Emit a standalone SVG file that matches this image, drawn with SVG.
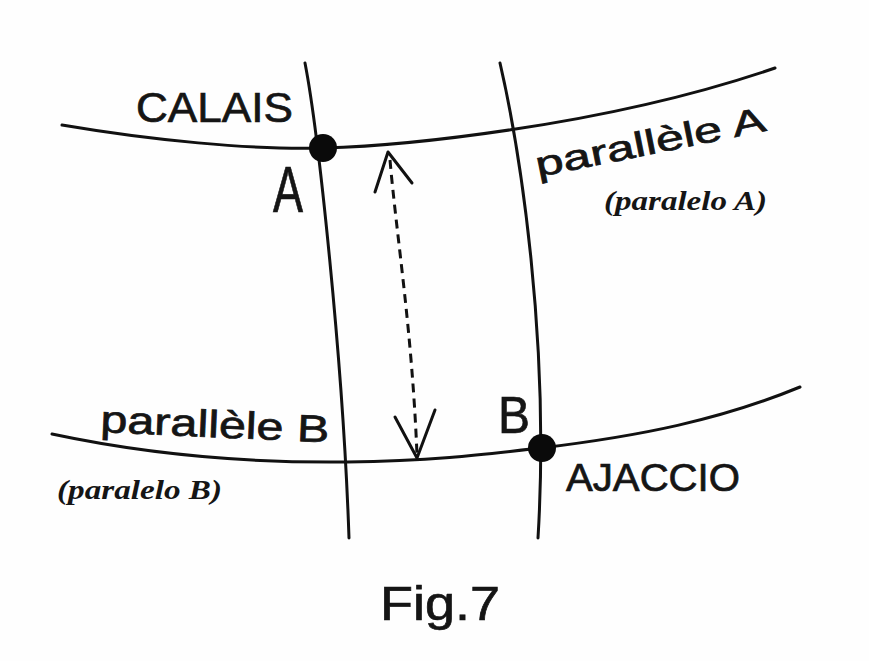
<svg xmlns="http://www.w3.org/2000/svg" width="869" height="661" viewBox="0 0 869 661">
<style>
.ln{fill:none;stroke:#111;stroke-width:3;stroke-linecap:round}
.dash{fill:none;stroke:#111;stroke-width:3;stroke-dasharray:9 6}
.ah{fill:none;stroke:#111;stroke-width:3;stroke-linecap:round;stroke-linejoin:round}
.dot{fill:#0a0a0a}
.hw{font-family:"Liberation Sans","DejaVu Sans",sans-serif;fill:#151515;stroke:#151515;stroke-width:0.7}
.es{font-family:"Liberation Serif","DejaVu Serif",serif;font-weight:bold;font-style:italic;fill:#151515}
</style>
<rect width="869" height="661" fill="#fefefe"/>
<g id="grid">
<path id="parallel-a" class="ln" d="M62,125 C150,140 250,150 323,148 S600,128 775,68"/>
<path id="parallel-b" class="ln" d="M52,434 C150,455 250,463 347,462 C430,461 480,455 541,448 C640,436 720,420 800,387"/>
<path id="meridian-1" class="ln" d="M305,63 C318,130 343,360 349,538"/>
<path id="meridian-2" class="ln" d="M500,63 C520,150 550,340 538,538"/>
</g>
<g id="point-a">
<circle class="dot" cx="323" cy="148" r="14"/>
<text class="hw" x="136" y="122" font-size="42" textLength="157" lengthAdjust="spacingAndGlyphs">CALAIS</text>
<text class="hw" x="273" y="212" font-size="64" textLength="30" lengthAdjust="spacingAndGlyphs">A</text>
</g>
<g id="point-b">
<circle class="dot" cx="542" cy="448" r="14"/>
<text class="hw" x="498" y="433" font-size="52" textLength="32" lengthAdjust="spacingAndGlyphs">B</text>
<text class="hw" x="566" y="491" font-size="39" textLength="174" lengthAdjust="spacingAndGlyphs">AJACCIO</text>
</g>
<g id="label-parallel-a">
<text class="hw" transform="translate(538,177) rotate(-11.4)" font-size="35" textLength="234" lengthAdjust="spacingAndGlyphs">parallèle A</text>
<text class="es" x="604" y="210" font-size="27" textLength="163" lengthAdjust="spacingAndGlyphs">(paralelo A)</text>
</g>
<g id="label-parallel-b">
<text class="hw" transform="translate(100,432) rotate(2.6)" font-size="38" textLength="229" lengthAdjust="spacingAndGlyphs">parallèle B</text>
<text class="es" x="57" y="499" font-size="28" textLength="165" lengthAdjust="spacingAndGlyphs">(paralelo B)</text>
</g>
<g id="connectors">
<path class="dash" d="M390,160 C397,240 412,330 417,455"/>
<path class="ah" d="M375,192 L388,152 L412,183"/>
<path class="ah" d="M395,417 L417,458 L435,410"/>
</g>
<text id="caption" class="hw" x="380" y="620" font-size="48" textLength="120" lengthAdjust="spacingAndGlyphs">Fig.7</text>
</svg>
